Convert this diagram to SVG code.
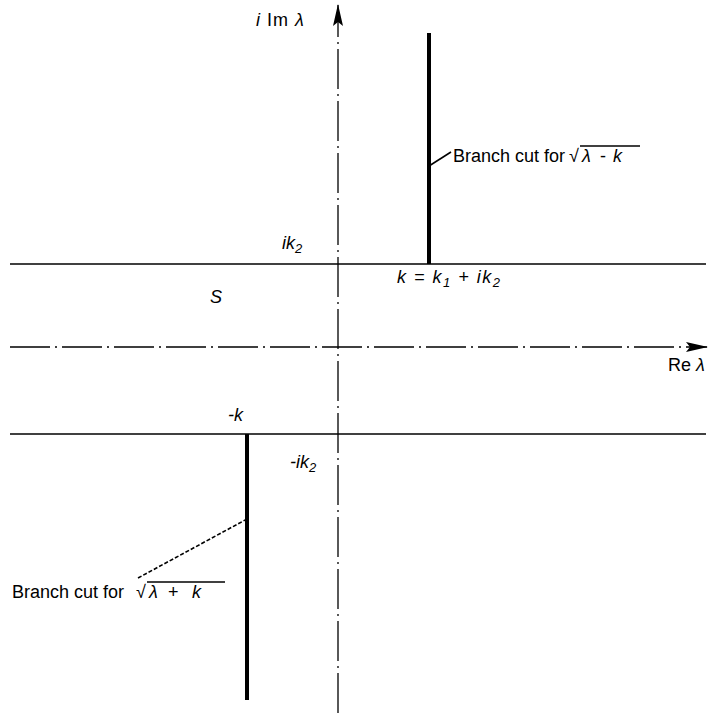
<svg xmlns="http://www.w3.org/2000/svg" width="709" height="713" viewBox="0 0 709 713">
<style>
text{font-family:"Liberation Sans","DejaVu Sans",sans-serif;font-size:18px;fill:#000}
.m{font-style:italic}
.s{font-size:13px}
.ax{stroke:#000;stroke-width:1.3;fill:none;stroke-dasharray:40 5 2 5}
.ln{stroke:#000;stroke-width:1.6;fill:none}
.cut{stroke:#000;stroke-width:4;fill:none}
.ov{stroke:#000;stroke-width:1.3}
</style>
<defs>
<marker id="ah" viewBox="0 0 22 10" refX="21" refY="5" markerWidth="22" markerHeight="10" markerUnits="userSpaceOnUse" orient="auto">
<path d="M0,0 L22,5 L0,10 L4,5 Z" fill="#000"/>
</marker>
</defs>
<rect width="709" height="713" fill="#fff"/>
<g id="connectors">
<line class="ax" x1="338" y1="713" x2="338" y2="5" marker-end="url(#ah)"/>
<line class="ax" x1="10" y1="347" x2="707" y2="347" marker-end="url(#ah)"/>
<line class="ln" x1="10" y1="264" x2="706" y2="264"/>
<line class="ln" x1="10" y1="434" x2="706" y2="434"/>
<line class="ln" x1="429" y1="166" x2="451" y2="152" stroke-width="1"/>
<line class="ln" x1="138" y1="578" x2="247" y2="519" stroke-width="1" stroke-dasharray="4 2"/>
</g>
<g id="cut-upper"><line class="cut" x1="429" y1="33" x2="429" y2="264"/></g>
<g id="cut-lower"><line class="cut" x1="247" y1="434" x2="247" y2="700"/></g>
<g id="labels">
<text x="256" y="26" letter-spacing="1"><tspan class="m">i</tspan> Im <tspan class="m">λ</tspan></text>
<g id="label-upper-cut">
<text x="453" y="162">Branch cut for</text>
<text x="569" y="162">√</text>
<text class="m" x="582" y="162">λ</text>
<text x="600" y="162">-</text>
<text class="m" x="613" y="162">k</text>
<line class="ov" x1="580" y1="146" x2="640" y2="146"/>
</g>
<text class="m" x="282" y="249">ik<tspan class="s" dy="4">2</tspan></text>
<text class="m" x="397" y="283" letter-spacing="1.5">k = k<tspan class="s" dy="4">1</tspan><tspan dy="-4"> + ik</tspan><tspan class="s" dy="4">2</tspan></text>
<text class="m" x="210" y="303">S</text>
<text x="668" y="371">Re <tspan class="m">λ</tspan></text>
<text class="m" x="228" y="421">-k</text>
<text class="m" x="290" y="468">-ik<tspan class="s" dy="4">2</tspan></text>
<g id="label-lower-cut">
<text x="12" y="598">Branch cut for</text>
<text x="136" y="598">√</text>
<text class="m" x="149" y="598">λ</text>
<text x="168" y="598">+</text>
<text class="m" x="192" y="598">k</text>
<line class="ov" x1="147" y1="582" x2="225" y2="582"/>
</g>
</g>
</svg>
